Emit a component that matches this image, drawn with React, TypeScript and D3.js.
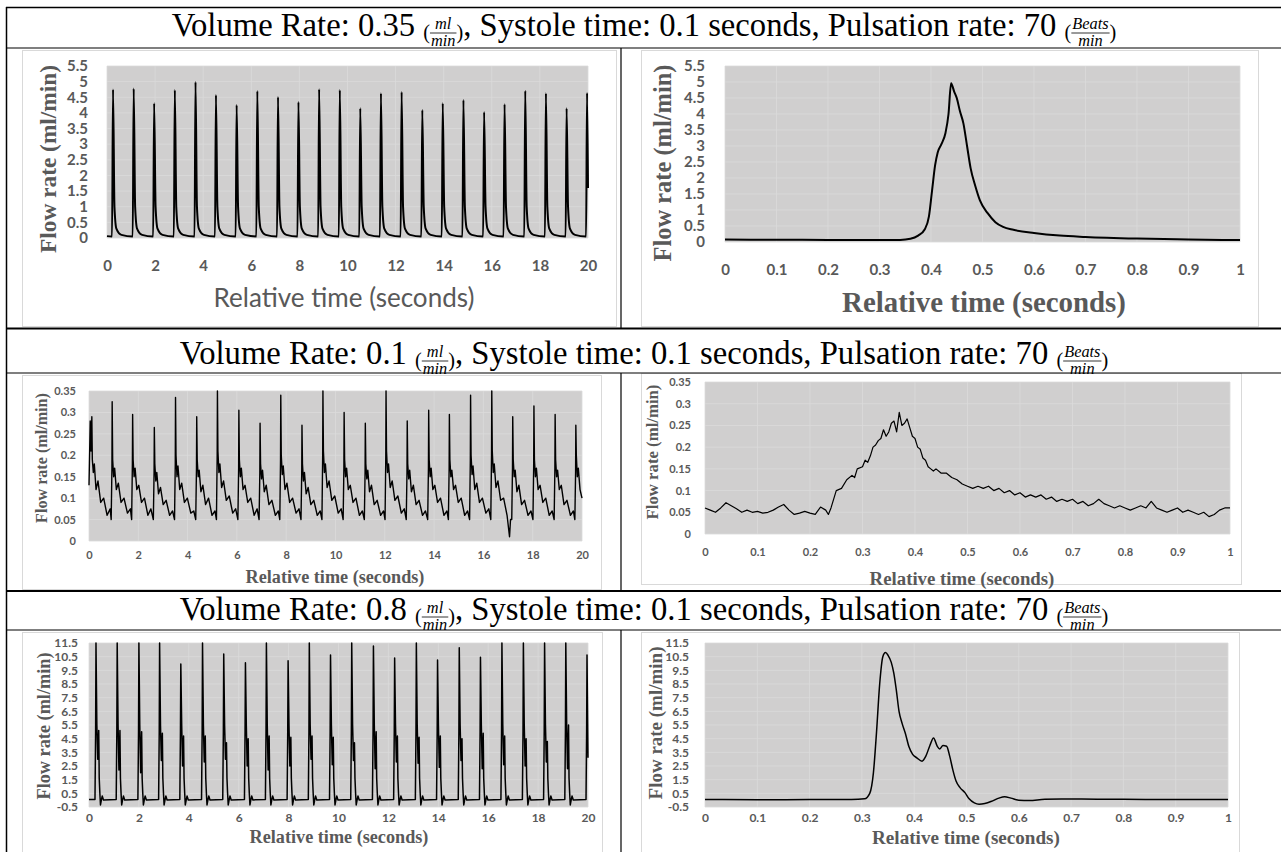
import React, { useRef, useEffect } from 'react';
import * as d3 from 'd3';

type Pt = [number, number];

// header texts
const volumeRates = ['0.35', '0.1', '0.8'];
const systoleTime = '0.1';
const pulsationRate = '70';
const rateUnit = ['ml', 'min'];
const pulseUnit = ['Beats', 'min'];
const yTitleText = 'Flow rate (ml/min)';
const xTitleText = 'Relative time (seconds)';

// tick labels
const ticksTime20 = [0, 2, 4, 6, 8, 10, 12, 14, 16, 18, 20];
const ticksTime1 = [0, 0.1, 0.2, 0.3, 0.4, 0.5, 0.6, 0.7, 0.8, 0.9, 1];
const ticksFlowA = [0, 0.5, 1, 1.5, 2, 2.5, 3, 3.5, 4, 4.5, 5, 5.5];
const ticksFlowB = [0, 0.05, 0.1, 0.15, 0.2, 0.25, 0.3, 0.35];
const ticksFlowC = [-0.5, 0.5, 1.5, 2.5, 3.5, 4.5, 5.5, 6.5, 7.5, 8.5, 9.5, 10.5, 11.5];

// 0.35 ml/min, 20 s record
const flowA20: Pt[] = [
  [0, 0.06], [0.21, 0.05], [0.25, 4.75], [0.31, 1.0], [0.39, 0.3], [0.6, 0.1],
  [1.07, 0.05], [1.11, 4.78], [1.17, 1.0], [1.25, 0.3], [1.46, 0.1],
  [1.92, 0.05], [1.96, 4.31], [2.02, 1.0], [2.1, 0.3], [2.31, 0.1],
  [2.78, 0.05], [2.82, 4.73], [2.88, 1.0], [2.96, 0.3], [3.17, 0.1],
  [3.64, 0.05], [3.68, 4.99], [3.74, 1.0], [3.82, 0.3], [4.03, 0.1],
  [4.49, 0.05], [4.53, 4.57], [4.59, 1.0], [4.67, 0.3], [4.88, 0.1],
  [5.35, 0.05], [5.39, 4.25], [5.45, 1.0], [5.53, 0.3], [5.74, 0.1],
  [6.21, 0.05], [6.25, 4.7], [6.31, 1.0], [6.39, 0.3], [6.6, 0.1],
  [7.07, 0.05], [7.11, 4.51], [7.17, 1.0], [7.25, 0.3], [7.46, 0.1],
  [7.92, 0.05], [7.96, 4.35], [8.02, 1.0], [8.1, 0.3], [8.31, 0.1],
  [8.78, 0.05], [8.82, 4.76], [8.88, 1.0], [8.96, 0.3], [9.17, 0.1],
  [9.64, 0.05], [9.68, 4.73], [9.74, 1.0], [9.82, 0.3], [10.03, 0.1],
  [10.49, 0.05], [10.53, 4.15], [10.59, 1.0], [10.67, 0.3], [10.88, 0.1],
  [11.35, 0.05], [11.39, 4.63], [11.45, 1.0], [11.53, 0.3], [11.74, 0.1],
  [12.21, 0.05], [12.25, 4.67], [12.31, 1.0], [12.39, 0.3], [12.6, 0.1],
  [13.07, 0.05], [13.11, 4.09], [13.17, 1.0], [13.25, 0.3], [13.46, 0.1],
  [13.92, 0.05], [13.96, 4.31], [14.02, 1.0], [14.1, 0.3], [14.31, 0.1],
  [14.78, 0.05], [14.82, 4.41], [14.88, 1.0], [14.96, 0.3], [15.17, 0.1],
  [15.64, 0.05], [15.68, 4.03], [15.74, 1.0], [15.82, 0.3], [16.03, 0.1],
  [16.49, 0.05], [16.53, 4.28], [16.59, 1.0], [16.67, 0.3], [16.88, 0.1],
  [17.35, 0.05], [17.39, 4.71], [17.45, 1.0], [17.53, 0.3], [17.74, 0.1],
  [18.21, 0.05], [18.25, 4.63], [18.31, 1.0], [18.39, 0.3], [18.6, 0.1],
  [19.07, 0.05], [19.11, 4.15], [19.17, 1.0], [19.25, 0.3], [19.46, 0.1],
  [19.92, 0.05], [19.96, 4.64], [20, 1.6],
];

// 0.35 ml/min, one beat
const flowA1: Pt[] = [
  [0, 0.075], [0.1, 0.07], [0.2, 0.065], [0.3, 0.06], [0.34, 0.065], [0.36, 0.1], [0.375, 0.2],
  [0.388, 0.4], [0.396, 0.8], [0.402, 1.6], [0.408, 2.4], [0.413, 2.8], [0.42, 3.05], [0.428, 3.4],
  [0.434, 4.0], [0.439, 4.96], [0.445, 4.7], [0.45, 4.5], [0.456, 4.1], [0.463, 3.7], [0.47, 3.0],
  [0.477, 2.3], [0.486, 1.75], [0.495, 1.3], [0.51, 0.9], [0.525, 0.62], [0.54, 0.47], [0.56, 0.38],
  [0.6, 0.28], [0.65, 0.2], [0.7, 0.16], [0.8, 0.11], [0.9, 0.08], [1, 0.06],
];

// 0.1 ml/min, 20 s record
const flowB20: Pt[] = [
  [0, 0.13], [0.05, 0.28], [0.08, 0.21], [0.115, 0.29], [0.135, 0.19], [0.175, 0.16], [0.215, 0.18], [0.285, 0.12], [0.365, 0.14], [0.475, 0.09], [0.595, 0.1], [0.735, 0.06], [0.86, 0.075],
  [0.9, 0.05], [0.93, 0.17], [0.94, 0.325], [0.96, 0.19], [1.0, 0.15], [1.04, 0.17], [1.11, 0.12], [1.19, 0.135], [1.3, 0.09], [1.42, 0.1], [1.56, 0.065], [1.68, 0.075],
  [1.73, 0.05], [1.76, 0.18], [1.77, 0.295], [1.79, 0.19], [1.83, 0.15], [1.87, 0.17], [1.94, 0.12], [2.02, 0.13], [2.13, 0.09], [2.25, 0.1], [2.39, 0.06], [2.51, 0.075],
  [2.61, 0.05], [2.64, 0.16], [2.65, 0.265], [2.67, 0.18], [2.71, 0.14], [2.75, 0.16], [2.82, 0.11], [2.9, 0.125], [3.01, 0.085], [3.13, 0.095], [3.27, 0.06], [3.39, 0.07],
  [3.47, 0.05], [3.5, 0.18], [3.51, 0.335], [3.53, 0.2], [3.57, 0.15], [3.61, 0.175], [3.68, 0.12], [3.76, 0.135], [3.87, 0.09], [3.99, 0.1], [4.13, 0.065], [4.25, 0.07],
  [4.33, 0.05], [4.36, 0.17], [4.37, 0.29], [4.39, 0.19], [4.43, 0.15], [4.47, 0.165], [4.54, 0.115], [4.62, 0.13], [4.73, 0.085], [4.85, 0.1], [4.99, 0.06], [5.11, 0.07],
  [5.17, 0.05], [5.2, 0.2], [5.21, 0.35], [5.23, 0.21], [5.27, 0.16], [5.31, 0.18], [5.38, 0.125], [5.46, 0.14], [5.57, 0.095], [5.69, 0.105], [5.83, 0.065], [5.95, 0.075],
  [6.04, 0.05], [6.07, 0.17], [6.08, 0.305], [6.1, 0.19], [6.14, 0.15], [6.18, 0.17], [6.25, 0.12], [6.33, 0.13], [6.44, 0.09], [6.56, 0.1], [6.7, 0.06], [6.82, 0.075],
  [6.9, 0.05], [6.93, 0.16], [6.94, 0.275], [6.96, 0.18], [7.0, 0.145], [7.04, 0.165], [7.11, 0.115], [7.19, 0.13], [7.3, 0.085], [7.42, 0.095], [7.56, 0.06], [7.68, 0.07],
  [7.74, 0.05], [7.77, 0.19], [7.78, 0.34], [7.8, 0.2], [7.84, 0.155], [7.88, 0.175], [7.95, 0.12], [8.03, 0.135], [8.14, 0.09], [8.26, 0.1], [8.4, 0.065], [8.52, 0.075],
  [8.6, 0.05], [8.63, 0.16], [8.64, 0.27], [8.66, 0.18], [8.7, 0.14], [8.74, 0.16], [8.81, 0.11], [8.89, 0.125], [9.0, 0.085], [9.12, 0.095], [9.26, 0.06], [9.38, 0.07],
  [9.45, 0.05], [9.48, 0.2], [9.49, 0.35], [9.51, 0.21], [9.55, 0.16], [9.59, 0.18], [9.66, 0.125], [9.74, 0.14], [9.85, 0.095], [9.97, 0.105], [10.11, 0.065], [10.23, 0.075],
  [10.31, 0.05], [10.34, 0.17], [10.35, 0.3], [10.37, 0.19], [10.41, 0.15], [10.45, 0.17], [10.52, 0.12], [10.6, 0.13], [10.71, 0.09], [10.83, 0.1], [10.97, 0.06], [11.09, 0.07],
  [11.17, 0.05], [11.2, 0.16], [11.21, 0.275], [11.23, 0.18], [11.27, 0.145], [11.31, 0.165], [11.38, 0.115], [11.46, 0.13], [11.57, 0.085], [11.69, 0.095], [11.83, 0.06], [11.95, 0.07],
  [12.01, 0.05], [12.04, 0.2], [12.05, 0.35], [12.07, 0.21], [12.11, 0.16], [12.15, 0.18], [12.22, 0.125], [12.3, 0.14], [12.41, 0.095], [12.53, 0.105], [12.67, 0.065], [12.79, 0.075],
  [12.87, 0.05], [12.9, 0.16], [12.91, 0.28], [12.93, 0.18], [12.97, 0.145], [13.01, 0.165], [13.08, 0.115], [13.16, 0.13], [13.27, 0.085], [13.39, 0.095], [13.53, 0.06], [13.65, 0.07],
  [13.74, 0.05], [13.77, 0.17], [13.78, 0.305], [13.8, 0.19], [13.84, 0.15], [13.88, 0.17], [13.95, 0.12], [14.03, 0.13], [14.14, 0.09], [14.26, 0.1], [14.4, 0.06], [14.52, 0.07],
  [14.58, 0.05], [14.61, 0.17], [14.62, 0.295], [14.64, 0.19], [14.68, 0.15], [14.72, 0.165], [14.79, 0.12], [14.87, 0.13], [14.98, 0.09], [15.1, 0.1], [15.24, 0.06], [15.36, 0.07],
  [15.44, 0.05], [15.47, 0.19], [15.48, 0.34], [15.5, 0.2], [15.54, 0.155], [15.58, 0.175], [15.65, 0.12], [15.73, 0.135], [15.84, 0.09], [15.96, 0.1], [16.1, 0.065], [16.22, 0.075],
  [16.3, 0.05], [16.33, 0.2], [16.34, 0.35], [16.36, 0.21], [16.4, 0.16], [16.44, 0.18], [16.51, 0.125], [16.59, 0.14], [16.7, 0.095], [16.82, 0.1], [16.96, 0.06], [17.06, 0.01], [17.1, 0.05],
  [17.15, 0.05], [17.18, 0.17], [17.19, 0.29], [17.21, 0.19], [17.25, 0.15], [17.29, 0.165], [17.36, 0.115], [17.44, 0.13], [17.55, 0.085], [17.67, 0.095], [17.81, 0.06], [17.93, 0.07],
  [18.01, 0.05], [18.04, 0.18], [18.05, 0.315], [18.07, 0.19], [18.11, 0.15], [18.15, 0.17], [18.22, 0.12], [18.3, 0.13], [18.41, 0.09], [18.53, 0.1], [18.67, 0.06], [18.79, 0.07],
  [18.87, 0.05], [18.9, 0.17], [18.91, 0.295], [18.93, 0.19], [18.97, 0.15], [19.01, 0.165], [19.08, 0.12], [19.16, 0.13], [19.27, 0.085], [19.39, 0.095], [19.53, 0.06], [19.65, 0.07],
  [19.71, 0.05], [19.74, 0.16], [19.75, 0.27], [19.77, 0.2], [19.81, 0.15], [19.85, 0.17], [19.92, 0.12], [20, 0.1],
];

// 0.1 ml/min, one beat
const flowB1: Pt[] = [
  [0, 0.06], [0.01, 0.055], [0.02, 0.05], [0.03, 0.06], [0.04, 0.072], [0.05, 0.065], [0.06, 0.058], [0.07, 0.05], [0.08, 0.055], [0.09, 0.05],
  [0.1, 0.052], [0.11, 0.048], [0.12, 0.05], [0.13, 0.055], [0.14, 0.062], [0.15, 0.068], [0.16, 0.055], [0.17, 0.045], [0.18, 0.048], [0.19, 0.052],
  [0.2, 0.048], [0.21, 0.045], [0.22, 0.062], [0.23, 0.055], [0.235, 0.045], [0.24, 0.06], [0.25, 0.1], [0.26, 0.105], [0.27, 0.125], [0.28, 0.135],
  [0.285, 0.13], [0.29, 0.15], [0.3, 0.155], [0.305, 0.17], [0.31, 0.165], [0.315, 0.18], [0.32, 0.2], [0.325, 0.205], [0.33, 0.215], [0.335, 0.22],
  [0.34, 0.24], [0.345, 0.225], [0.35, 0.235], [0.355, 0.255], [0.36, 0.26], [0.365, 0.235], [0.37, 0.28], [0.375, 0.25], [0.38, 0.255], [0.385, 0.265],
  [0.39, 0.245], [0.395, 0.225], [0.4, 0.22], [0.405, 0.2], [0.41, 0.195], [0.415, 0.175], [0.42, 0.17], [0.425, 0.155], [0.43, 0.15], [0.435, 0.145],
  [0.44, 0.15], [0.45, 0.14], [0.46, 0.14], [0.47, 0.13], [0.48, 0.125], [0.49, 0.115], [0.5, 0.11], [0.51, 0.105], [0.52, 0.11], [0.53, 0.105],
  [0.54, 0.11], [0.55, 0.1], [0.56, 0.105], [0.57, 0.095], [0.58, 0.1], [0.59, 0.09], [0.6, 0.095], [0.61, 0.085], [0.62, 0.09], [0.63, 0.085],
  [0.64, 0.09], [0.65, 0.08], [0.66, 0.085], [0.67, 0.075], [0.68, 0.08], [0.69, 0.075], [0.7, 0.08], [0.71, 0.07], [0.72, 0.075], [0.73, 0.065],
  [0.74, 0.07], [0.75, 0.08], [0.76, 0.07], [0.77, 0.065], [0.78, 0.06], [0.79, 0.065], [0.8, 0.06], [0.81, 0.055], [0.82, 0.06], [0.83, 0.065],
  [0.84, 0.06], [0.85, 0.075], [0.86, 0.06], [0.87, 0.055], [0.88, 0.05], [0.89, 0.055], [0.9, 0.06], [0.91, 0.05], [0.92, 0.055], [0.93, 0.05],
  [0.94, 0.045], [0.95, 0.05], [0.96, 0.04], [0.97, 0.045], [0.98, 0.055], [0.99, 0.06], [1, 0.06],
];

// 0.8 ml/min, 20 s record
const flowC20: Pt[] = [
  [0, 0.05], [0.24, 0.05], [0.265, 5], [0.28, 11.5], [0.315, 5.5], [0.35, 3.0], [0.39, 5.1], [0.41, 1.6], [0.435, 0.5], [0.46, -0.35], [0.5, 0.05], [0.53, 0.3], [0.58, 0.02],
  [1.09, 0.05], [1.115, 5], [1.13, 11.5], [1.165, 5.5], [1.2, 2.2], [1.24, 5.1], [1.26, 1.6], [1.285, 0.5], [1.31, -0.35], [1.35, 0.05], [1.38, 0.3], [1.43, 0.02],
  [1.96, 0.05], [1.985, 5], [2, 11.5], [2.035, 5.5], [2.07, 2.0], [2.11, 5.0], [2.13, 1.6], [2.155, 0.5], [2.18, -0.35], [2.22, 0.05], [2.25, 0.3], [2.3, 0.02],
  [2.79, 0.05], [2.815, 5], [2.83, 11.5], [2.865, 5.5], [2.9, 2.9], [2.94, 4.9], [2.96, 1.6], [2.985, 0.5], [3.01, -0.35], [3.05, 0.05], [3.08, 0.3], [3.13, 0.02],
  [3.64, 0.05], [3.665, 5], [3.68, 9.96], [3.715, 5.5], [3.75, 2.5], [3.79, 4.7], [3.81, 1.6], [3.835, 0.5], [3.86, -0.35], [3.9, 0.05], [3.93, 0.3], [3.98, 0.02],
  [4.51, 0.05], [4.535, 5], [4.55, 11.5], [4.585, 5.5], [4.62, 2.8], [4.66, 4.7], [4.68, 1.6], [4.705, 0.5], [4.73, -0.35], [4.77, 0.05], [4.8, 0.3], [4.85, 0.02],
  [5.36, 0.05], [5.385, 5], [5.4, 10.7], [5.435, 5.5], [5.47, 3.0], [5.51, 4.2], [5.53, 1.6], [5.555, 0.5], [5.58, -0.35], [5.62, 0.05], [5.65, 0.3], [5.7, 0.02],
  [6.23, 0.05], [6.255, 5], [6.27, 10.06], [6.305, 5.5], [6.34, 2.5], [6.38, 4.5], [6.4, 1.6], [6.425, 0.5], [6.45, -0.35], [6.49, 0.05], [6.52, 0.3], [6.57, 0.02],
  [7.07, 0.05], [7.095, 5], [7.11, 11.5], [7.145, 5.5], [7.18, 2.2], [7.22, 4.7], [7.24, 1.6], [7.265, 0.5], [7.29, -0.35], [7.33, 0.05], [7.36, 0.3], [7.41, 0.02],
  [7.94, 0.05], [7.965, 5], [7.98, 10.2], [8.015, 5.5], [8.05, 2.5], [8.09, 4.6], [8.11, 1.6], [8.135, 0.5], [8.16, -0.35], [8.2, 0.05], [8.23, 0.3], [8.28, 0.02],
  [8.79, 0.05], [8.815, 5], [8.83, 11.5], [8.865, 5.5], [8.9, 3.0], [8.94, 4.7], [8.96, 1.6], [8.985, 0.5], [9.01, -0.35], [9.05, 0.05], [9.08, 0.3], [9.13, 0.02],
  [9.64, 0.05], [9.665, 5], [9.68, 10.62], [9.715, 5.5], [9.75, 2.6], [9.79, 4.6], [9.81, 1.6], [9.835, 0.5], [9.86, -0.35], [9.9, 0.05], [9.93, 0.3], [9.98, 0.02],
  [10.49, 0.05], [10.515, 5], [10.53, 11.5], [10.565, 5.5], [10.6, 2.9], [10.64, 4.2], [10.66, 1.6], [10.685, 0.5], [10.71, -0.35], [10.75, 0.05], [10.78, 0.3], [10.83, 0.02],
  [11.36, 0.05], [11.385, 5], [11.4, 11.28], [11.435, 5.5], [11.47, 2.3], [11.51, 5.0], [11.53, 1.6], [11.555, 0.5], [11.58, -0.35], [11.62, 0.05], [11.65, 0.3], [11.7, 0.02],
  [12.21, 0.05], [12.235, 5], [12.25, 10.4], [12.285, 5.5], [12.32, 2.8], [12.36, 4.7], [12.38, 1.6], [12.405, 0.5], [12.43, -0.35], [12.47, 0.05], [12.5, 0.3], [12.55, 0.02],
  [13.08, 0.05], [13.105, 5], [13.12, 11.5], [13.155, 5.5], [13.19, 2.7], [13.23, 4.6], [13.25, 1.6], [13.275, 0.5], [13.3, -0.35], [13.34, 0.05], [13.37, 0.3], [13.42, 0.02],
  [13.93, 0.05], [13.955, 5], [13.97, 10.26], [14.005, 5.5], [14.04, 2.4], [14.08, 4.7], [14.1, 1.6], [14.125, 0.5], [14.15, -0.35], [14.19, 0.05], [14.22, 0.3], [14.27, 0.02],
  [14.8, 0.05], [14.825, 5], [14.84, 11.16], [14.875, 5.5], [14.91, 2.9], [14.95, 4.5], [14.97, 1.6], [14.995, 0.5], [15.02, -0.35], [15.06, 0.05], [15.09, 0.3], [15.14, 0.02],
  [15.65, 0.05], [15.675, 5], [15.69, 10.45], [15.725, 5.5], [15.76, 2.3], [15.8, 4.9], [15.82, 1.6], [15.845, 0.5], [15.87, -0.35], [15.91, 0.05], [15.94, 0.3], [15.99, 0.02],
  [16.51, 0.05], [16.535, 5], [16.55, 11.5], [16.585, 5.5], [16.62, 2.6], [16.66, 4.7], [16.68, 1.6], [16.705, 0.5], [16.73, -0.35], [16.77, 0.05], [16.8, 0.3], [16.85, 0.02],
  [17.37, 0.05], [17.395, 5], [17.41, 11.5], [17.445, 5.5], [17.48, 2.5], [17.52, 4.5], [17.54, 1.6], [17.565, 0.5], [17.59, -0.35], [17.63, 0.05], [17.66, 0.3], [17.71, 0.02],
  [18.22, 0.05], [18.245, 5], [18.26, 11.5], [18.295, 5.5], [18.33, 2.8], [18.37, 4.3], [18.39, 1.6], [18.415, 0.5], [18.44, -0.35], [18.48, 0.05], [18.51, 0.3], [18.56, 0.02],
  [19.07, 0.05], [19.095, 5], [19.11, 11.5], [19.145, 5.5], [19.18, 2.3], [19.22, 5.5], [19.24, 1.6], [19.265, 0.5], [19.29, -0.35], [19.33, 0.05], [19.36, 0.3], [19.41, 0.02],
  [19.92, 0.05], [19.945, 5], [19.96, 10.62], [20, 3.1],
];

// 0.8 ml/min, one beat
const flowC1: Pt[] = [
  [0, 0.05], [0.1, 0.03], [0.2, 0.04], [0.28, 0.05], [0.305, 0.1], [0.315, 0.5], [0.322, 2], [0.328, 5], [0.334, 8.5],
  [0.34, 10.5], [0.345, 10.8], [0.35, 10.6], [0.356, 10.1], [0.361, 9.3], [0.366, 8.0], [0.371, 6.5], [0.377, 5.6],
  [0.383, 4.9], [0.39, 3.9], [0.397, 3.35], [0.405, 3.1], [0.415, 2.85], [0.422, 3.2], [0.43, 4.0], [0.437, 4.55],
  [0.444, 3.95], [0.449, 3.75], [0.455, 4.0], [0.462, 3.95], [0.468, 3.2], [0.474, 2.2], [0.48, 1.4], [0.488, 0.9],
  [0.497, 0.55], [0.505, 0.1], [0.515, -0.2], [0.524, -0.3], [0.535, -0.25], [0.55, -0.05], [0.562, 0.15], [0.573, 0.25],
  [0.585, 0.15], [0.6, 0.0], [0.62, -0.03], [0.65, 0.07], [0.7, 0.08], [0.75, 0.07], [0.8, 0.06], [0.9, 0.04], [1, 0.05],
];

const SERIF = "'Liberation Serif', 'Times New Roman', serif";
const SANS = "Lato, 'Open Sans', sans-serif";
const GREY_TEXT = '#595959';
const PLOT_FILL = '#d0cfcf';
const GRID = '#dadada';
const FRAME = '#d9d9d9';

const panels = [
  { id: 'a20', data: flowA20, xd: [0, 20], yd: [0, 5.5], xt: ticksTime20, yt: ticksFlowA, curve: d3.curveMonotoneX,
    left: 107, right: 588, top: 66, bottom: 238, sw: 2, tick: 15, yLab: 88, xLab: 266,
    xT: { x: 344, y: 298, w: 261, sans: true }, yT: { x: 48, y: 159, w: 188 }, frame: [22, 50, 616, 326] },
  { id: 'a1', data: flowA1, xd: [0, 1], yd: [0, 5.5], xt: ticksTime1, yt: ticksFlowA, curve: d3.curveMonotoneX,
    left: 725, right: 1240, top: 66, bottom: 242, sw: 2, tick: 15, yLab: 705, xLab: 270,
    xT: { x: 984, y: 302, w: 284, sans: false }, yT: { x: 662, y: 163, w: 197 }, frame: [641, 50, 1258, 326] },
  { id: 'b20', data: flowB20, xd: [0, 20], yd: [0, 0.35], xt: ticksTime20, yt: ticksFlowB, curve: d3.curveLinear,
    left: 89, right: 582, top: 391, bottom: 541, sw: 1.4, tick: 11, yLab: 76, xLab: 555,
    xT: { x: 335, y: 577, w: 179, sans: false }, yT: { x: 41, y: 458, w: 130 }, frame: [22, 375, 601, 589] },
  { id: 'b1', data: flowB1, xd: [0, 1], yd: [0, 0.35], xt: ticksTime1, yt: ticksFlowB, curve: d3.curveLinear,
    left: 705, right: 1230, top: 382, bottom: 534, sw: 1.2, tick: 11, yLab: 691, xLab: 552,
    xT: { x: 962, y: 578, w: 185, sans: false }, yT: { x: 652, y: 452, w: 135 }, frame: [641, 373, 1241, 584] },
  { id: 'c20', data: flowC20, xd: [0, 20], yd: [-0.5, 11.5], xt: ticksTime20, yt: ticksFlowC, curve: d3.curveLinear,
    left: 89, right: 588, top: 643, bottom: 807, sw: 1.5, tick: 12, yLab: 78, xLab: 818,
    xT: { x: 339, y: 837, w: 179, sans: false }, yT: { x: 44, y: 726, w: 147 }, frame: [22, 632, 602, 860] },
  { id: 'c1', data: flowC1, xd: [0, 1], yd: [-0.5, 11.5], xt: ticksTime1, yt: ticksFlowC, curve: d3.curveMonotoneX,
    left: 705, right: 1228, top: 643, bottom: 807, sw: 1.5, tick: 12, yLab: 689, xLab: 818,
    xT: { x: 966, y: 837, w: 188, sans: false }, yT: { x: 655, y: 723, w: 153 }, frame: [641, 632, 1239, 860] },
];

const headers = [
  { rate: volumeRates[0], base: 36 },
  { rate: volumeRates[1], base: 364 },
  { rate: volumeRates[2], base: 620 },
];

function fitText(t: any, target: number) {
  const w = t.node().getComputedTextLength();
  const base = +t.attr('font-size');
  if (w > 0) t.attr('font-size', (base * target) / w);
}

function drawPanel(svg: any, p: any) {
  const x = d3.scaleLinear().domain(p.xd).range([p.left, p.right]);
  const y = d3.scaleLinear().domain(p.yd).range([p.bottom, p.top]);
  const g = svg.append('g');

  g.append('rect')
    .attr('x', p.frame[0] + 0.5).attr('y', p.frame[1] + 0.5)
    .attr('width', p.frame[2] - p.frame[0]).attr('height', p.frame[3] - p.frame[1])
    .attr('fill', '#fff').attr('stroke', FRAME);

  g.append('rect')
    .attr('x', p.left).attr('y', p.top)
    .attr('width', p.right - p.left).attr('height', p.bottom - p.top)
    .attr('fill', PLOT_FILL);

  // gridlines
  g.append('g').selectAll('line').data(p.yt).join('line')
    .attr('x1', p.left).attr('x2', p.right)
    .attr('y1', (d: number) => y(d)).attr('y2', (d: number) => y(d))
    .attr('stroke', GRID).attr('stroke-width', 0.8);
  g.append('g').selectAll('line').data(p.xt).join('line')
    .attr('y1', p.top).attr('y2', p.bottom)
    .attr('x1', (d: number) => x(d)).attr('x2', (d: number) => x(d))
    .attr('stroke', GRID).attr('stroke-width', 0.8);

  const clipId = 'clip-' + p.id;
  svg.append('clipPath').attr('id', clipId).append('rect')
    .attr('x', p.left - 1).attr('y', p.top - 1)
    .attr('width', p.right - p.left + 2).attr('height', p.bottom - p.top + 2);

  const line = d3.line<Pt>().x(d => x(d[0])).y(d => y(d[1])).curve(p.curve);
  g.append('path').datum(p.data)
    .attr('d', line)
    .attr('fill', 'none').attr('stroke', '#000').attr('stroke-width', p.sw)
    .attr('stroke-linejoin', 'round')
    .attr('clip-path', `url(#${clipId})`);

  // y tick labels
  const ya = g.append('g').attr('transform', `translate(${p.yLab},0)`)
    .call(d3.axisLeft(y).tickValues(p.yt).tickSize(0).tickPadding(0).tickFormat((d: any) => String(d)));
  ya.select('.domain').remove();
  ya.selectAll('text')
    .attr('font-family', SANS).attr('font-weight', 700).attr('font-size', p.tick).attr('fill', GREY_TEXT);

  // x tick labels
  const xa = g.append('g').attr('transform', `translate(0,${p.xLab})`)
    .call(d3.axisBottom(x).tickValues(p.xt).tickSize(0).tickPadding(0).tickFormat((d: any) => String(d)));
  xa.select('.domain').remove();
  xa.selectAll('text')
    .attr('dy', '0.35em')
    .attr('font-family', SANS).attr('font-weight', 700).attr('font-size', p.tick).attr('fill', GREY_TEXT);

  // axis titles
  const xt = g.append('text')
    .attr('x', p.xT.x).attr('y', p.xT.y).attr('dy', '0.35em')
    .attr('text-anchor', 'middle')
    .attr('font-family', p.xT.sans ? SANS : SERIF)
    .attr('font-weight', p.xT.sans ? 400 : 700)
    .attr('font-size', 20).attr('fill', GREY_TEXT)
    .text(xTitleText);
  fitText(xt, p.xT.w);

  const yt = g.append('text')
    .attr('transform', `translate(${p.yT.x},${p.yT.y}) rotate(-90)`)
    .attr('dy', '0.35em')
    .attr('text-anchor', 'middle')
    .attr('font-family', SERIF).attr('font-weight', 700)
    .attr('font-size', 20).attr('fill', GREY_TEXT)
    .text(yTitleText);
  fitText(yt, p.yT.w);
}

function drawHeader(svg: any, base: number, rate: string, size: number, center: number) {
  const g = svg.append('g');
  const parts: any[] = [
    { text: `Volume Rate: ${rate} ` },
    { num: rateUnit[0], den: rateUnit[1] },
    { text: `, Systole time: ${systoleTime} seconds, Pulsation rate: ${pulsationRate} ` },
    { num: pulseUnit[0], den: pulseUnit[1] },
  ];
  const small = size * 0.5;
  const paren = size * 0.62;
  let cx = 0;
  const addText = (s: string, fs: number, dy: number, italic = false) => {
    const t = g.append('text')
      .attr('x', cx).attr('y', base + dy)
      .attr('font-family', SERIF).attr('font-size', fs)
      .attr('font-style', italic ? 'italic' : 'normal')
      .attr('xml:space', 'preserve').style('white-space', 'pre')
      .attr('fill', '#000').text(s);
    return t;
  };
  parts.forEach(part => {
    if (part.text !== undefined) {
      const t = addText(part.text, size, 0);
      cx += t.node().getComputedTextLength();
    } else {
      const o = addText('(', paren, 3);
      cx += o.node().getComputedTextLength();
      const n = addText(part.num, small, -7, true);
      const d = addText(part.den, small, 10, true);
      const wn = n.node().getComputedTextLength();
      const wd = d.node().getComputedTextLength();
      const w = Math.max(wn, wd) + 2;
      n.attr('x', cx + (w - wn) / 2);
      d.attr('x', cx + (w - wd) / 2);
      g.append('line').attr('x1', cx).attr('x2', cx + w)
        .attr('y1', base - 3).attr('y2', base - 3)
        .attr('stroke', '#000').attr('stroke-width', 0.8);
      cx += w;
      const c = addText(')', paren, 3);
      cx += c.node().getComputedTextLength();
    }
  });
  g.attr('transform', `translate(${center - cx / 2},0)`);
  return { g, width: cx };
}

export default function App() {
  const svgRef = useRef<SVGSVGElement>(null);

  useEffect(() => {
    const svg = d3.select(svgRef.current);
    svg.selectAll('*').remove();

    panels.forEach(p => drawPanel(svg, p));

    // header size fitted on the first row
    let size = 32;
    const first = drawHeader(svg, headers[0].base, headers[0].rate, size, 644);
    size = size * 945 / first.width;
    first.g.remove();
    headers.forEach(h => drawHeader(svg, h.base, h.rate, size, 644));

    // table borders
    const lines = svg.append('g').attr('stroke', '#000');
    const hLines = [
      { y: 7.5, w: 1.5 }, { y: 48, w: 1.2 }, { y: 328.5, w: 2 },
      { y: 373, w: 1.2 }, { y: 591, w: 2 }, { y: 630, w: 1.2 },
    ];
    hLines.forEach(l => lines.append('line')
      .attr('x1', 6).attr('x2', 1281).attr('y1', l.y).attr('y2', l.y).attr('stroke-width', l.w));
    lines.append('line').attr('x1', 6.5).attr('x2', 6.5).attr('y1', 7).attr('y2', 852).attr('stroke-width', 1.5);
    const vSegs = [[48, 328], [373, 591], [630, 852]];
    vSegs.forEach(s => lines.append('line')
      .attr('x1', 621).attr('x2', 621).attr('y1', s[0]).attr('y2', s[1]).attr('stroke-width', 1.2));
  }, []);

  return (
    <svg
      ref={svgRef}
      width={1281}
      height={852}
      style={{ position: 'absolute', left: 0, top: 0, background: '#fff' }}
    />
  );
}
